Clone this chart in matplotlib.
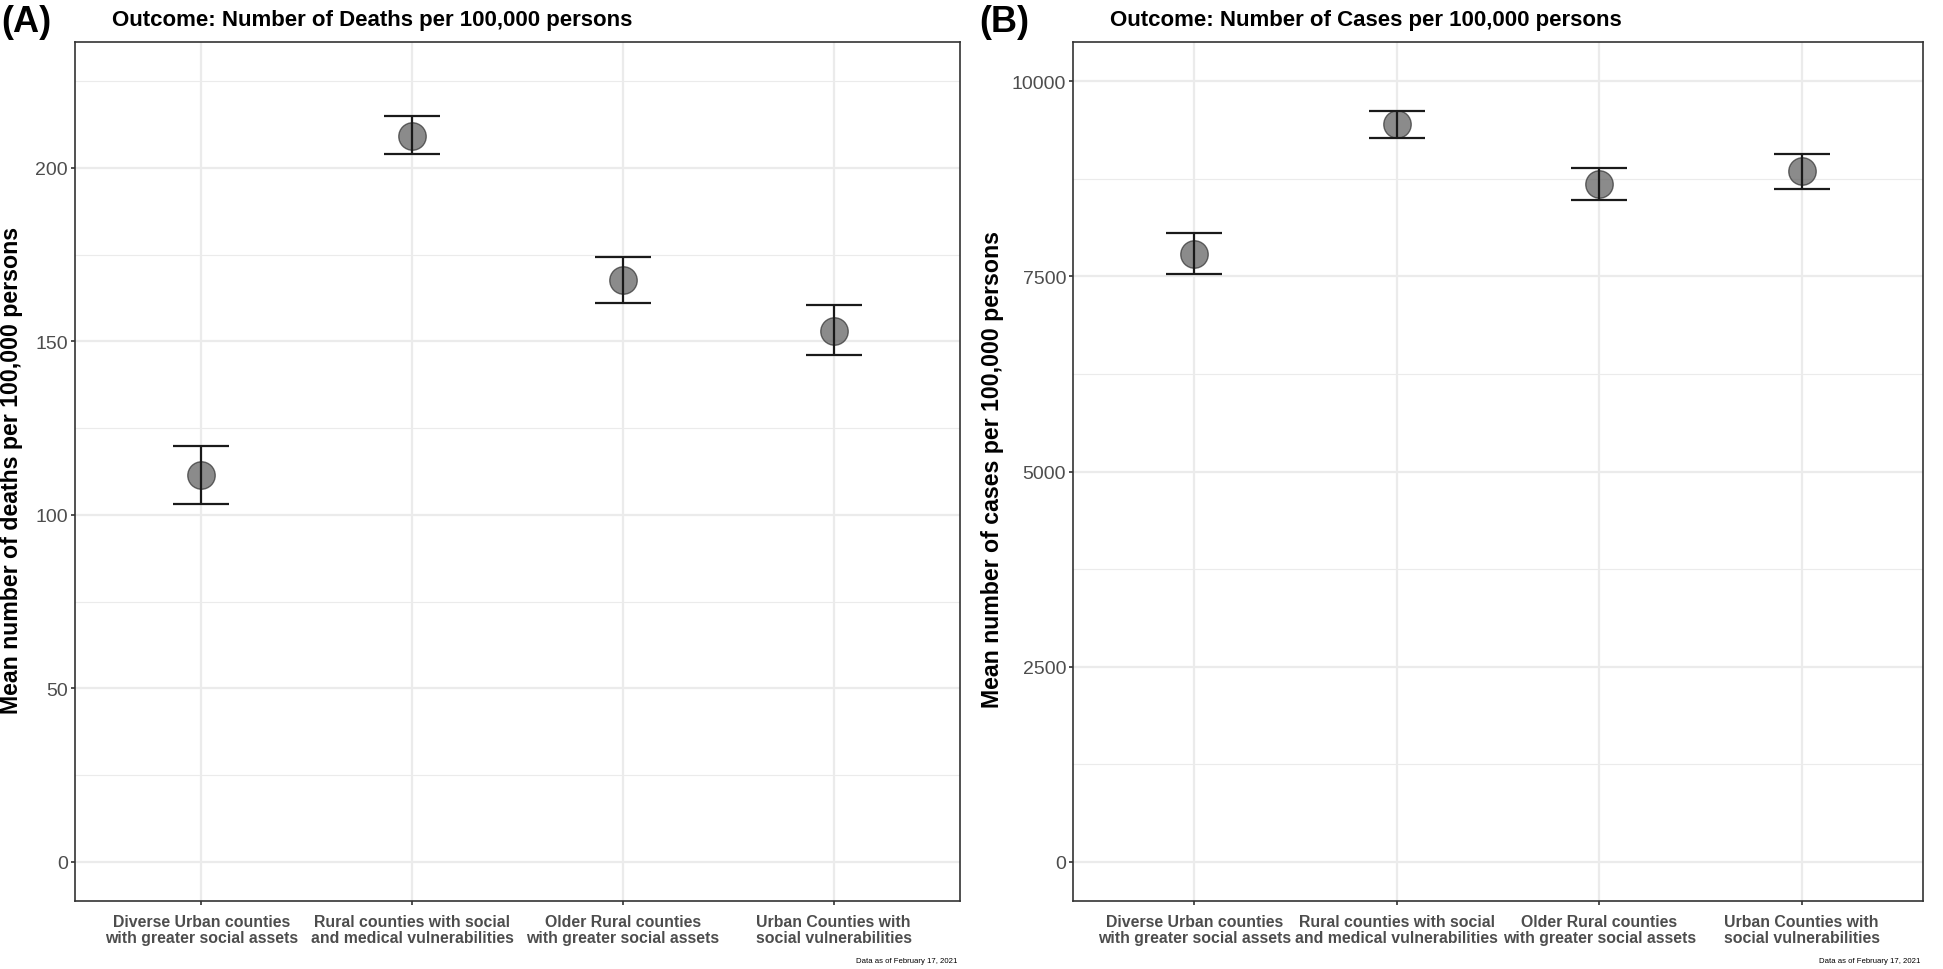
import matplotlib.pyplot as plt

# Data
groups = ['Diverse Urban counties\nwith greater social assets',
          'Rural counties with social\nand medical vulnerabilities',
          'Older Rural counties\nwith greater social assets',
          'Urban Counties with\nsocial vulnerabilities']

deaths_mean = [111.6, 209.3, 167.6, 152.9]
deaths_low = [103.0, 203.9, 161.1, 146.2]
deaths_high = [119.8, 215.0, 174.3, 160.4]

cases_mean = [7781, 9445, 8685, 8843]
cases_low = [7528, 9271, 8479, 8621]
cases_high = [8051, 9620, 8891, 9065]

font = ['Liberation Sans', 'DejaVu Sans']

W, H = 1943, 970
fig = plt.figure(figsize=(W / 100, H / 100), dpi=100)


def panel(left_px, right_px, mean, low, high, ymax, major, minor,
          title, ylabel, tag, tag_x, ylab_x):
    ax = fig.add_axes([left_px / W, 1 - 902 / H, (right_px - left_px) / W, (902 - 43) / H])
    x = list(range(1, len(groups) + 1))
    ax.set_xlim(0.4, len(groups) + 0.6)
    ax.set_ylim(-0.05 * ymax, 1.05 * ymax)

    ax.set_yticks(major)
    ax.set_yticks(minor, minor=True)
    ax.set_xticks(x)
    ax.grid(True, which='major', color='#EBEBEB', linewidth=1.6)
    ax.grid(True, which='minor', axis='y', color='#EBEBEB', linewidth=0.8)
    ax.set_axisbelow(True)
    ax.tick_params(which='minor', length=0)
    ax.tick_params(which='major', length=3, width=1.2, color='#333333')
    ax.tick_params(axis='y', pad=2)
    ax.tick_params(axis='x', pad=6.5)

    yerr = [[m - l for m, l in zip(mean, low)], [h - m for m, h in zip(mean, high)]]
    ax.scatter(x, mean, s=390, facecolor='#5a5a5a', edgecolor='#303030',
               alpha=0.7, linewidth=1.0, zorder=3)
    ax.errorbar(x, mean, yerr=yerr, fmt='none', ecolor='#1a1a1a',
                elinewidth=1.6, capsize=20.5, capthick=1.6, zorder=4)

    ax.set_xticklabels(groups, fontfamily=font, fontweight='bold',
                       fontsize=11.4, color='#4D4D4D', linespacing=1.08)
    for lab in ax.get_yticklabels():
        lab.set_fontfamily(font)
        lab.set_fontsize(14)
        lab.set_color('#4D4D4D')

    for s in ax.spines.values():
        s.set_color('#333333')
        s.set_linewidth(1.2)

    fig.text((left_px + 37) / W, 1 - 26 / H, title, fontfamily=font,
             fontweight='bold', fontsize=16, va='baseline', ha='left')
    fig.text(ylab_x / W, 1 - 470 / H, ylabel, fontfamily=font,
             fontweight='bold', fontsize=16.7, rotation=90, va='center', ha='center')
    fig.text(tag_x / W, 1 - 32 / H, tag, fontfamily=font,
             fontweight='bold', fontsize=26, va='baseline', ha='left')
    fig.text((right_px - 3) / W, 1 - 962 / H, 'Data as of February 17, 2021',
             fontfamily=font, fontsize=5.6, va='center', ha='right')
    return ax


panel(75, 960, deaths_mean, deaths_low, deaths_high, 225,
      [0, 50, 100, 150, 200], [25, 75, 125, 175, 225],
      'Outcome: Number of Deaths per 100,000 persons',
      'Mean number of deaths per 100,000 persons', '(A)', 1, 12)

panel(1073, 1923, cases_mean, cases_low, cases_high, 10000,
      [0, 2500, 5000, 7500, 10000], [1250, 3750, 6250, 8750],
      'Outcome: Number of Cases per 100,000 persons',
      'Mean number of cases per 100,000 persons', '(B)', 979, 992)

fig.savefig('out.png', dpi=100, facecolor='white')
